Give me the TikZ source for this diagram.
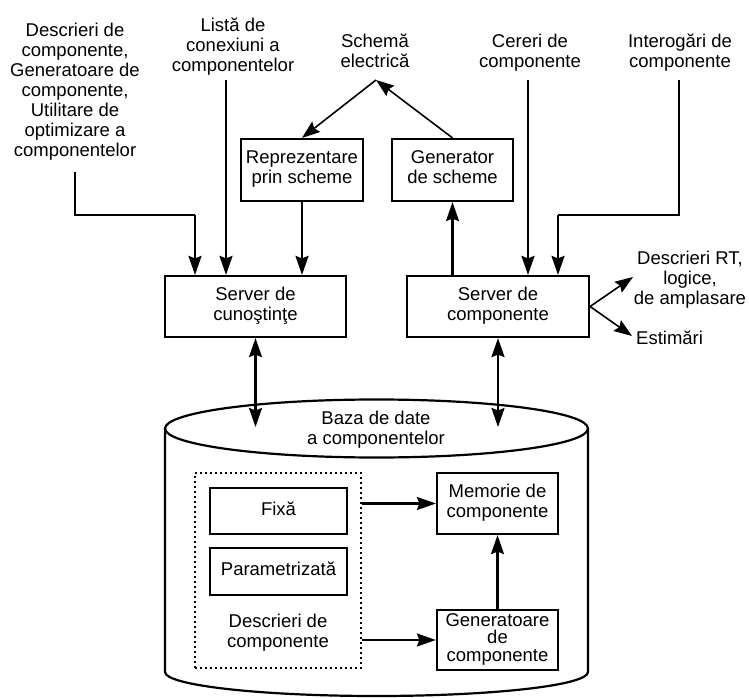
\documentclass[tikz,border=0pt]{standalone}
\usepackage{fontspec}
\setmainfont{Liberation Sans}
\usetikzlibrary{arrows.meta}
\begin{document}
\begin{tikzpicture}[x=1pt,y=1pt,
  txt/.style={inner sep=0pt, align=center,
    font=\fontsize{18.5}{20}\selectfont,
    execute at begin node=\strut, execute at end node=\strut},
  blk/.style={txt, draw, line width=2.2pt},
  tip/.tip={Stealth[length=19pt,width=13pt,inset=2.5pt]},
  arr/.style={line width=2.2pt, -tip},
  darr/.style={line width=2.2pt, tip-tip},
  sarr/.style={line width=1.6pt, -{Stealth[length=18pt,width=13pt,inset=2.5pt]}},
  plain/.style={line width=2.2pt}]
\useasboundingbox (0,0) rectangle (749,697);

% database cylinder
\draw[line width=2.2pt] (165,268.5) -- (165,25)
  arc[start angle=180, end angle=360, x radius=211.5, y radius=24] -- (588,268.5);
\draw[line width=2.2pt] (376.5,268.5) ellipse[x radius=211.5, y radius=29];
\node[txt] (db) at (376,266) {Baza de date\\a componentelor};

% input labels
\node[txt] (tin1) at (75,604) {Descrieri de\\componente,\\Generatoare de\\componente,\\Utilitare de\\optimizare a\\componentelor};
\node[txt] (tin2) at (233,649) {List\u{a} de\\conexiuni a\\componentelor};
\node[txt] (tsch) at (375,643) {Schem\u{a}\\electric\u{a}};
\node[txt] (tin3) at (530,643) {Cereri de\\componente};
\node[txt] (tin4) at (680,643) {Interog\u{a}ri de\\componente};

% output labels
\node[txt] (tout1) at (690,416) {Descrieri RT,\\logice,\\de amplasare};
\node[txt, anchor=west] (tout2) at (636,356) {Estim\u{a}ri};

% blocks
\node[blk, minimum width=122pt, minimum height=62pt] (rep) at (302,527) {Reprezentare\\prin scheme};
\node[blk, minimum width=121pt, minimum height=62pt] (gen) at (452.5,527) {Generator\\de scheme};
\node[blk, minimum width=181pt, minimum height=61pt] (srvk) at (255.5,390.5) {Server de\\cuno\c{s}tin\c{t}e};
\node[blk, minimum width=182pt, minimum height=61pt] (srvc) at (498,390.5) {Server de\\componente};
\node[blk, minimum width=137pt, minimum height=46pt] (fixa) at (278.5,186) {Fix\u{a}};
\node[blk, minimum width=137pt, minimum height=47pt] (param) at (278.5,125.5) {Parametrizat\u{a}};
\node[blk, minimum width=121pt, minimum height=61pt] (mem) at (497.5,193.5) {Memorie de\\componente};
\node[blk, minimum width=121pt, minimum height=60pt, font=\fontsize{18.5}{17.5}\selectfont,
  execute at begin node={}, execute at end node={}] (gena) at (497.5,57) {Generatoare\\de\\componente};

% dotted group of component descriptions
\node[draw, line width=2.2pt, dash pattern=on 2pt off 3pt, minimum width=166pt, minimum height=195pt,
  inner sep=0pt] (grp) at (278,126.5) {};
\node[txt] (tgrp) at (278,63.5) {Descrieri de\\componente};

% connection points
\coordinate (p1) at (75,525);
\coordinate (j1) at (195,482);
\coordinate (p2) at (226,617);
\coordinate (apex) at (376,617);
\coordinate (p3) at (528,617);
\coordinate (p4) at (679,617);
\coordinate (j4) at (558,482);
\coordinate (o1) at (633,420);
\coordinate (o2) at (632,361);
\coordinate (dbtop) at (376,270);

% inputs to the knowledge server
\draw[plain] (p1) |- (j1);
\draw[arr] (j1) -- (j1 |- srvk.north);
\draw[arr] (p2) -- (p2 |- srvk.north);
\draw[arr] (rep.south) -- (rep.south |- srvk.north);

% schematic
\draw[sarr] (apex) -- (rep.north);
\draw[sarr] (gen.north) -- (apex);
\draw[arr] (gen.south |- srvc.north) -- (gen.south);

% inputs to the component server
\draw[arr] (p3) -- (p3 |- srvc.north);
\draw[plain] (p4) |- (j4);
\draw[arr] (j4) -- (j4 |- srvc.north);

% outputs of the component server
\draw[sarr] (srvc.east) -- (o1);
\draw[sarr] (srvc.east) -- (o2);

% servers <-> database
\draw[darr] (srvk.south) -- (srvk.south |- dbtop);
\draw[darr] (srvc.south) -- (srvc.south |- dbtop);

% inside the database
\draw[arr] (mem.west -| grp.east) -- (mem.west);
\draw[arr] (gena.west -| grp.east) -- (gena.west);
\draw[arr] (gena.north) -- (mem.south);
\end{tikzpicture}
\end{document}
